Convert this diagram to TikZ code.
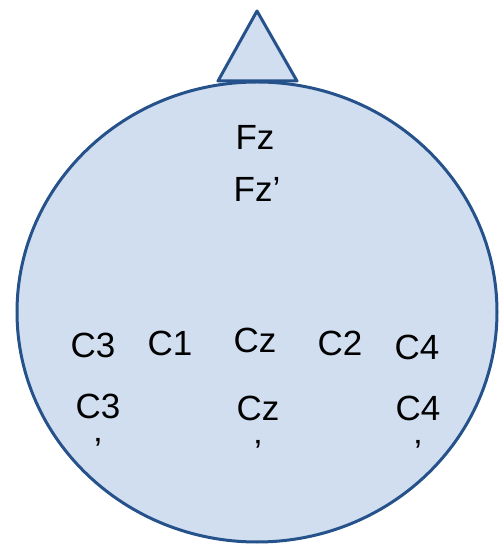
\documentclass[tikz,border=0pt]{standalone}
\usepackage{fontspec}
\setmainfont{Liberation Sans}
\definecolor{headfill}{RGB}{208, 222, 240}
\definecolor{headline}{RGB}{38, 82, 140}
\usetikzlibrary{positioning}

\begin{document}
\begin{tikzpicture}[
        x=1pt, y=1pt,
        head/.style={draw=headline, fill=headfill, line width=3pt},
        electrode/.style={font=\fontsize{35}{44}\selectfont, inner sep=0pt, align=center}
    ]
        \useasboundingbox (0,0) rectangle (503,544);

        % Nose and head outline
        \draw[head, line join=round] (257,533) -- (297,463) -- (218,463) -- cycle;
        \draw[head] (257,232) ellipse [x radius=240, y radius=230];

        % Frontal electrodes
        \node[electrode] (fz) at (255,407) {Fz};
        \node[electrode] (fzp) at (257,355) {Fz’};

        % Central row
        \node[electrode] (c3) at (93,199) {C3};
        \node[electrode] (c1) at (170,201) {C1};
        \node[electrode] (cz) at (255,204) {Cz};
        \node[electrode] (c2) at (340,201) {C2};
        \node[electrode] (c4) at (417,197) {C4};

        % Primed central row
        \node[electrode, anchor=north] (c3p) at (98,150) {C3\\’};
        \node[electrode, anchor=north] (czp) at (258,148) {Cz\\’};
        \node[electrode, anchor=north] (c4p) at (418,148) {C4\\’};
    \end{tikzpicture}
\end{document}
